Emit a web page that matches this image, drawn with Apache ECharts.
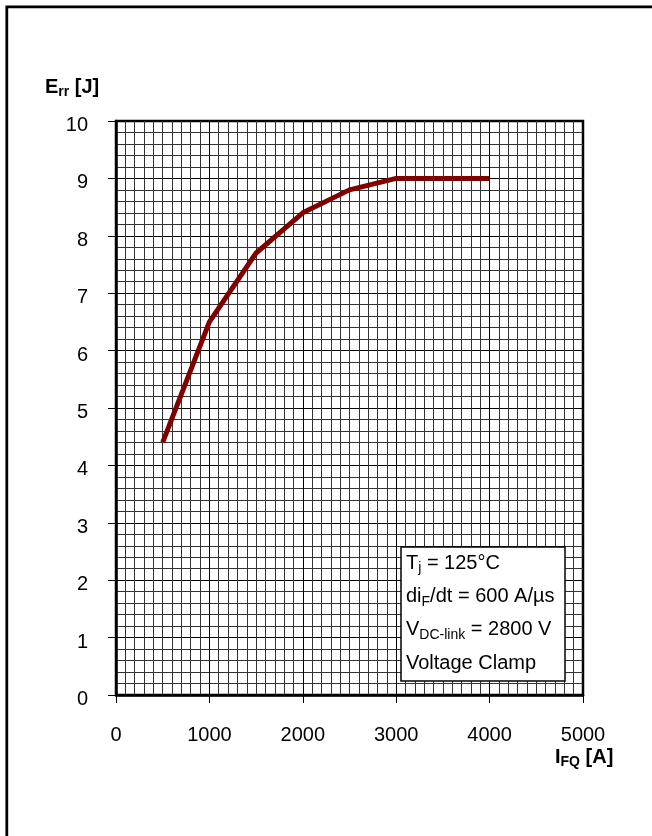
<!DOCTYPE html>
<html>
<head>
<meta charset="utf-8">
<script src="https://cdn.jsdelivr.net/npm/echarts@6/dist/echarts.min.js"></script>
<style>
html,body{margin:0;padding:0;background:#fff;}
#c{width:652px;height:836px;}
</style>
</head>
<body>
<div id="c"></div>
<script>
const currentA = [500, 1000, 1500, 2000, 2500, 3000, 4000];
const energyJ = [4.4, 6.5, 7.7, 8.4, 8.8, 9.0, 9.0];
const xTicks = { min: 0, max: 5000, interval: 1000 };
const yTicks = { min: 0, max: 10, interval: 1 };
const yTitle = 'E_rr [J]';
const xTitle = 'I_FQ [A]';
const legendLines = ['T_j = 125°C', 'di_F/dt = 600 A/µs', 'V_DC-link = 2800 V', 'Voltage Clamp'];

const FONT = 'Liberation Sans, Arial, sans-serif';
function toRich(s) {
  const m = s.match(/^([^_]*)_([^ \/]+)(.*)$/);
  if (!m) return '{n|' + s + '}';
  return '{n|' + m[1] + '}{s|' + m[2] + '}{n|' + m[3] + '}';
}
const richNormal = {
  n: { fontSize: 20, fontFamily: FONT, color: '#000', lineHeight: 26, verticalAlign: 'bottom' },
  s: { fontSize: 14, fontFamily: FONT, color: '#000', lineHeight: 11, height: 9, verticalAlign: 'bottom' }
};
const richBold = {
  n: { fontSize: 20, fontWeight: 'bold', fontFamily: FONT, color: '#000', lineHeight: 26, verticalAlign: 'bottom' },
  s: { fontSize: 14, fontWeight: 'bold', fontFamily: FONT, color: '#000', lineHeight: 11, height: 9, verticalAlign: 'bottom' }
};

const chart = echarts.init(document.getElementById('c'), null, { renderer: 'canvas' });
const gridL = 116, gridT = 121, gridW = 467, gridH = 574;

const legendGraphics = legendLines.map((t, i) => ({
  type: 'text', z: 102, left: 406, top: 553 + i * 33.4,
  style: { text: toRich(t), rich: richNormal }
}));

chart.setOption({
  animation: false,
  backgroundColor: '#fff',
  grid: { left: gridL, top: gridT, width: gridW, height: gridH, show: true, borderColor: '#000', borderWidth: 2.5, containLabel: false },
  xAxis: {
    type: 'value', min: xTicks.min, max: xTicks.max, interval: xTicks.interval,
    axisLine: { show: true, onZero: false, lineStyle: { color: '#000', width: 2.5 } },
    axisTick: { show: true, length: 8, lineStyle: { color: '#000', width: 1 } },
    minorTick: { show: false, splitNumber: 10 },
    splitLine: { show: true, lineStyle: { color: '#000', width: 1 } },
    minorSplitLine: { show: true, lineStyle: { color: '#333', width: 1 } },
    axisLabel: { fontSize: 20, fontFamily: FONT, color: '#000', margin: 30, formatter: v => String(v) }
  },
  yAxis: {
    type: 'value', min: yTicks.min, max: yTicks.max, interval: yTicks.interval,
    axisLine: { show: true, onZero: false, lineStyle: { color: '#000', width: 2.5 } },
    axisTick: { show: true, length: 8, lineStyle: { color: '#000', width: 1 } },
    minorTick: { show: false, splitNumber: 5 },
    splitLine: { show: true, lineStyle: { color: '#000', width: 1 } },
    minorSplitLine: { show: true, lineStyle: { color: '#333', width: 1 } },
    axisLabel: { fontSize: 20, fontFamily: FONT, color: '#000', margin: 28, verticalAlign: 'top', lineHeight: 9, formatter: v => String(v) }
  },
  series: [{
    type: 'line',
    data: currentA.map((x, i) => [x, energyJ[i]]),
    showSymbol: false, symbol: 'none',
    lineStyle: { color: '#800000', width: 5, join: 'round', cap: 'butt' },
    z: 5
  }],
  graphic: [
    { type: 'rect', z: 100, shape: { x: 6.8, y: 6.8, width: 800, height: 1000 },
      style: { fill: 'none', stroke: '#000', lineWidth: 2.8 } },
    { type: 'rect', z: 101, shape: { x: 401, y: 547, width: 164, height: 134 },
      style: { fill: '#fff', stroke: '#000', lineWidth: 1.5 } },
    ...legendGraphics,
    { type: 'text', z: 102, left: 45, top: 77, style: { text: toRich(yTitle), rich: richBold } },
    { type: 'text', z: 102, left: 555, top: 747, style: { text: toRich(xTitle), rich: richBold } }
  ]
});
</script>
</body>
</html>
